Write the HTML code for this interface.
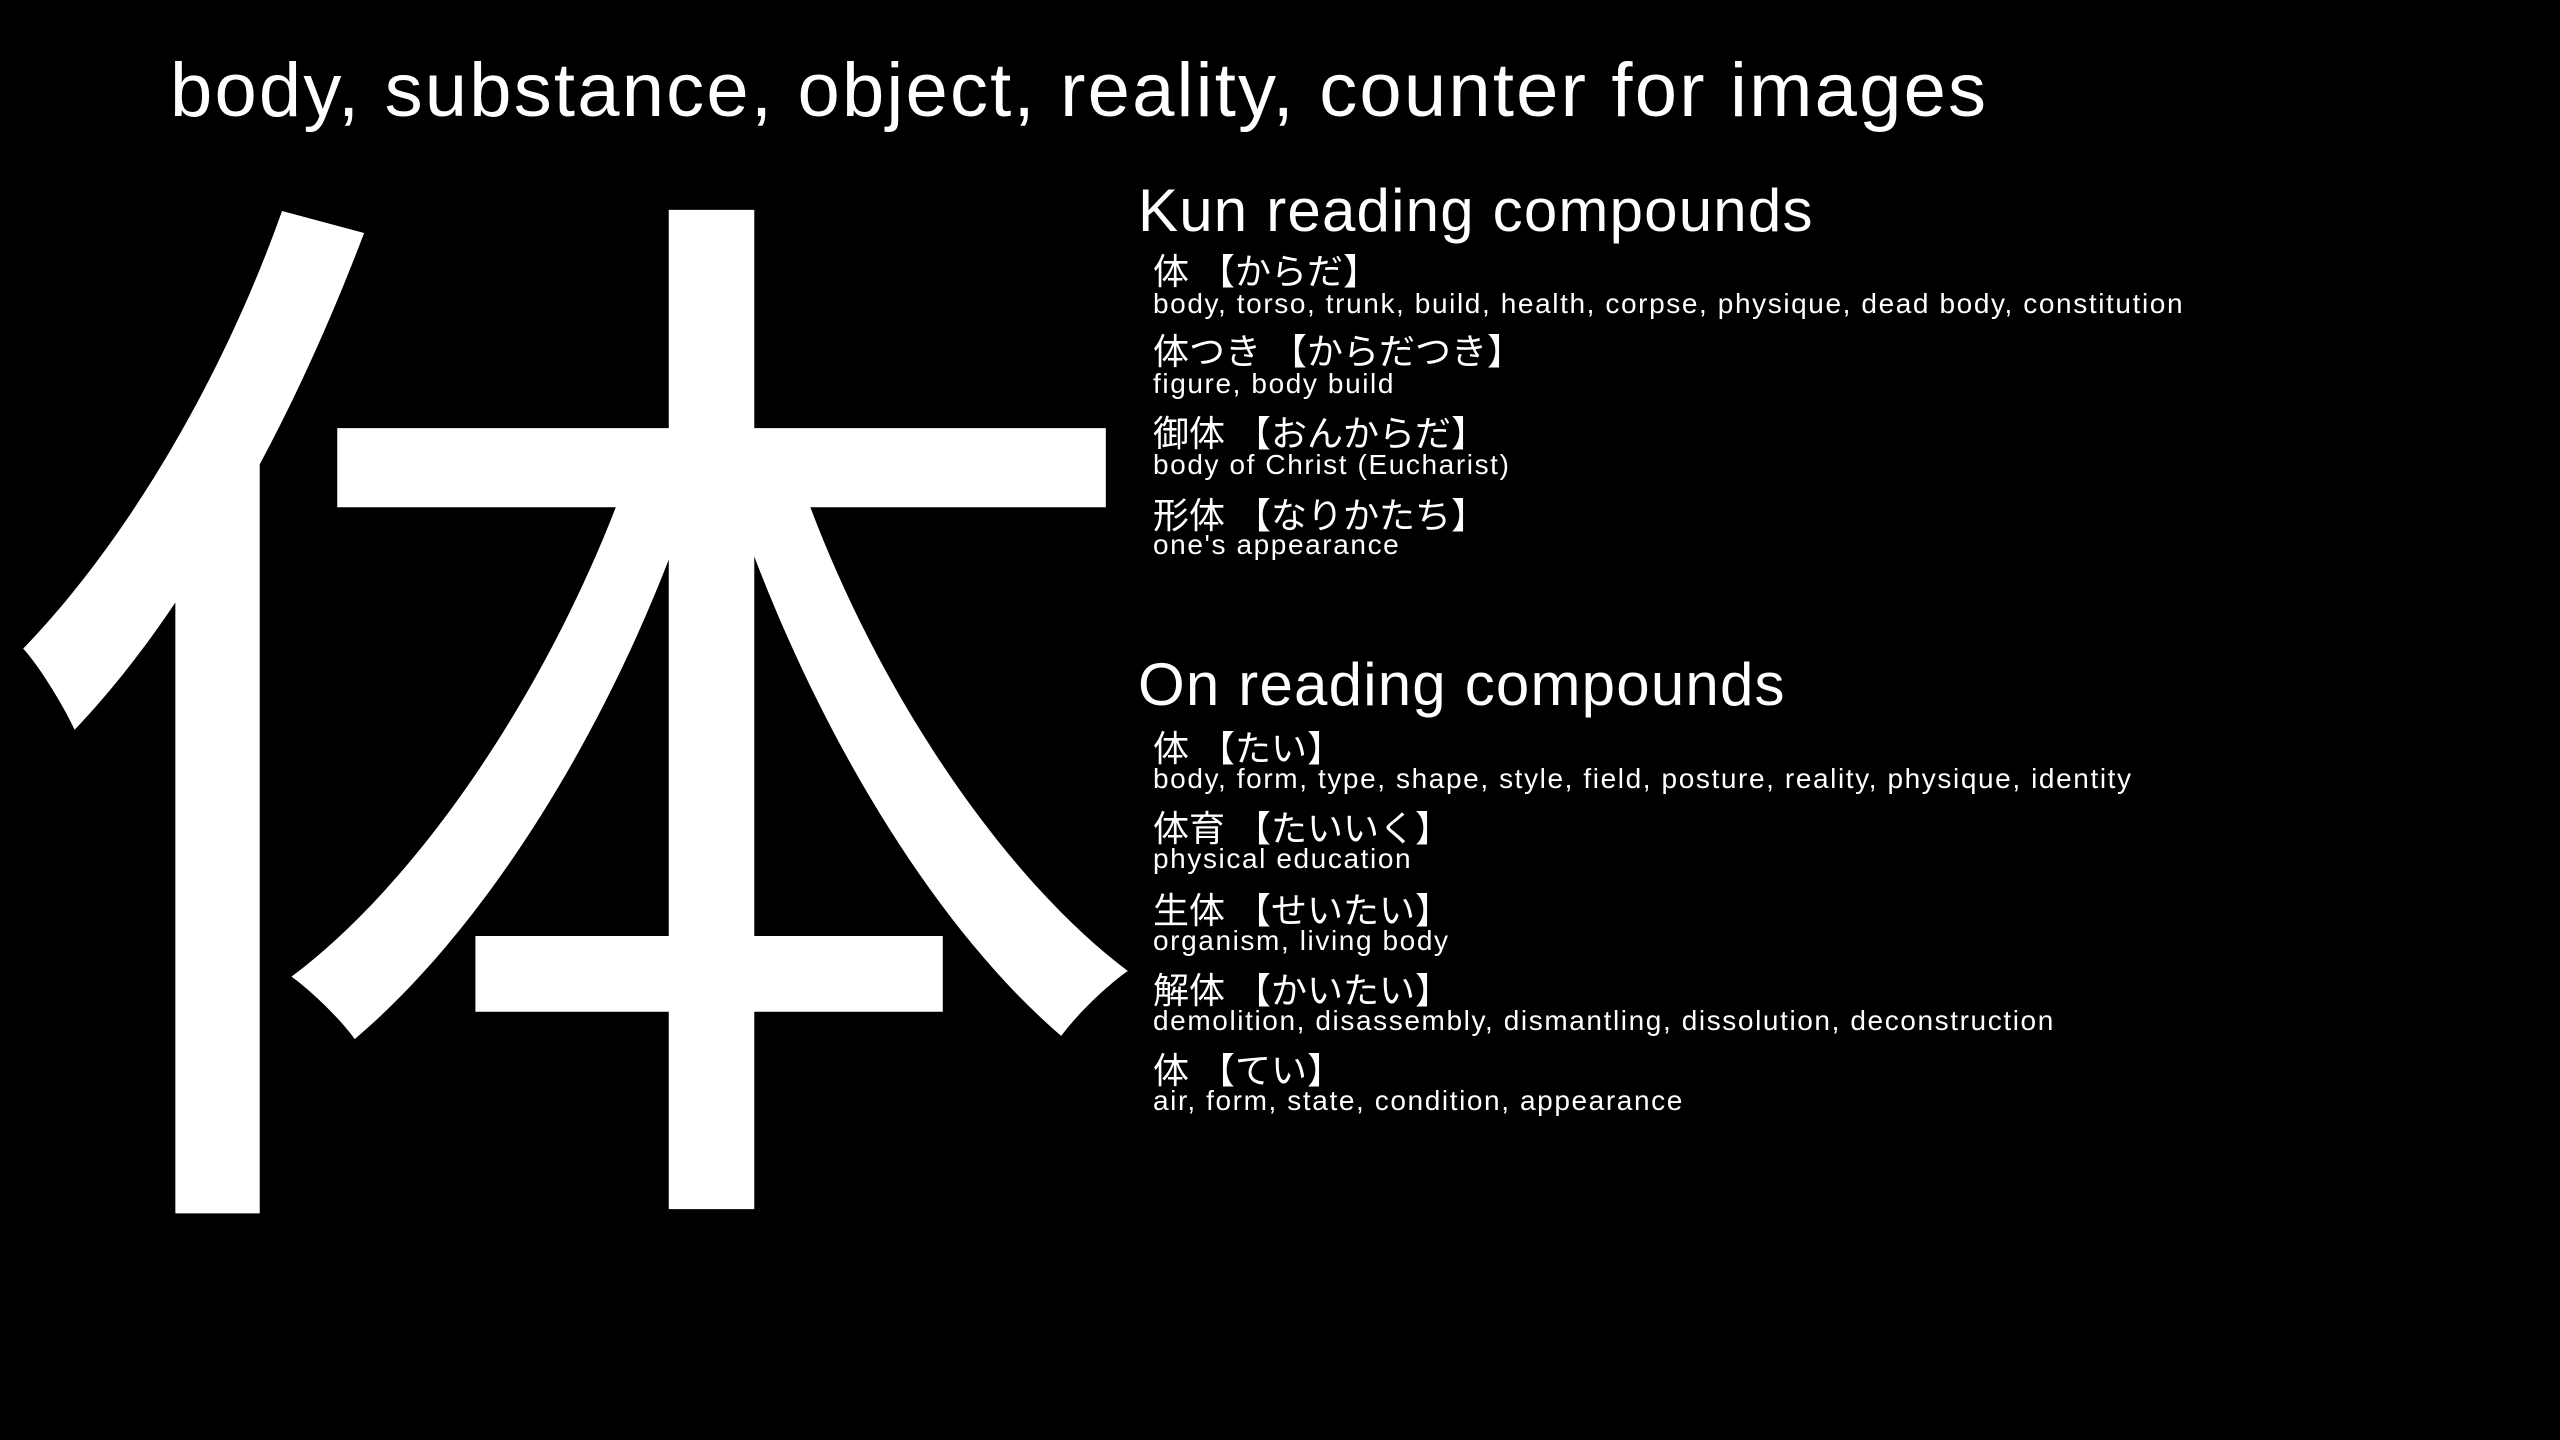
<!DOCTYPE html>
<html><head><meta charset="utf-8">
<style>
html,body{margin:0;padding:0;background:#000;}
body{width:2560px;height:1440px;position:relative;overflow:hidden;color:#fff;font-family:"Liberation Sans","Noto Sans CJK JP",sans-serif;}
.a{position:absolute;white-space:nowrap;}
.title{left:170px;top:46px;font-size:76px;line-height:90px;letter-spacing:2.2px;}
.h{left:1138px;font-size:60px;line-height:70px;letter-spacing:1.2px;}
.k{left:1153px;font-size:36px;line-height:44px;margin-top:3px;}
.m{left:1153px;font-size:28px;line-height:34px;letter-spacing:1.6px;}
</style></head><body>
<div class="a title">body, substance, object, reality, counter for images</div>
<svg class="a" style="left:0;top:0" width="1200" height="1440">
<g transform="translate(-12,0) scale(1.068,1)">
<text x="0" y="1128" font-size="1097" fill="#fff" font-family="Noto Sans CJK JP, sans-serif">体</text>
</g>
</svg>
<div class="a h" style="top:176px">Kun reading compounds</div>
<div class="a k" style="top:247px">体 【からだ】</div>
<div class="a m" style="top:287px">body, torso, trunk, build, health, corpse, physique, dead body, constitution</div>
<div class="a k" style="top:327px">体つき 【からだつき】</div>
<div class="a m" style="top:367px">figure, body build</div>
<div class="a k" style="top:409px">御体 【おんからだ】</div>
<div class="a m" style="top:448px">body of Christ (Eucharist)</div>
<div class="a k" style="top:491px">形体 【なりかたち】</div>
<div class="a m" style="top:528px">one's appearance</div>
<div class="a h" style="top:650px">On reading compounds</div>
<div class="a k" style="top:724px">体 【たい】</div>
<div class="a m" style="top:762px">body, form, type, shape, style, field, posture, reality, physique, identity</div>
<div class="a k" style="top:804px">体育 【たいいく】</div>
<div class="a m" style="top:842px">physical education</div>
<div class="a k" style="top:886px">生体 【せいたい】</div>
<div class="a m" style="top:924px">organism, living body</div>
<div class="a k" style="top:966px">解体 【かいたい】</div>
<div class="a m" style="top:1004px">demolition, disassembly, dismantling, dissolution, deconstruction</div>
<div class="a k" style="top:1046px">体 【てい】</div>
<div class="a m" style="top:1084px">air, form, state, condition, appearance</div>
</body></html>
